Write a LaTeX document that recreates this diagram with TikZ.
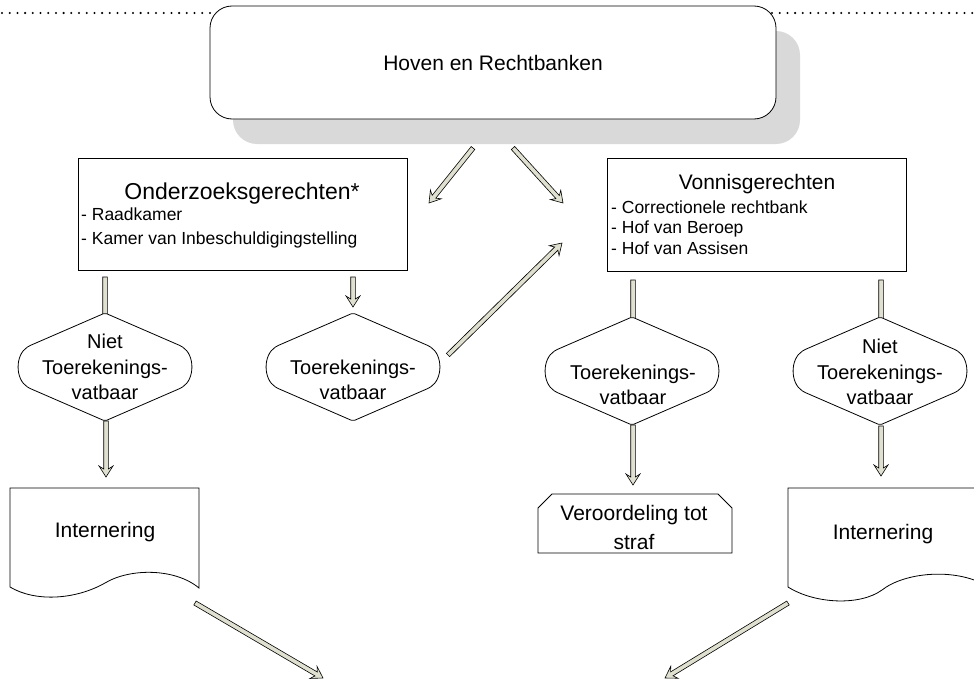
\documentclass[tikz,border=0pt]{standalone}
\usepackage{fontspec}
\setmainfont{Liberation Sans}
\usetikzlibrary{calc}

\definecolor{arrowfill}{HTML}{E0E0D0}
\definecolor{shadowgray}{HTML}{D9D9D9}

\tikzset{
  x=1pt, y=-1pt,
  boxline/.style={draw=black, fill=white, line width=0.8pt},
  blockarrow/.style={draw=black, fill=arrowfill, line width=0.6pt, line join=miter},
  dotline/.style={line width=2.3pt, line cap=round, dash pattern=on 0pt off 7.7pt},
  bigtext/.style={inner sep=0pt, font=\fontsize{21}{25}\selectfont},
  listtext/.style={inner sep=0pt, anchor=base west, font=\fontsize{17.5}{21}\selectfont},
  dectext/.style={inner sep=0pt, align=center, font=\fontsize{20}{25.5}\selectfont},
}

% hollow block arrow from #1 (tail) to #2 (tip)
\newcommand\blockarrow[2]{%
  \coordinate (ba-n) at ($(#2)!8pt!(#1)$);
  \coordinate (ba-w) at ($(#2)!11pt!(#1)$);
  \draw[blockarrow]
    ($(#1)!2.3pt!90:(#2)$) -- ($(ba-n)!2.3pt!90:(#2)$) -- ($(ba-w)!7pt!90:(#2)$)
    -- (#2)
    -- ($(ba-w)!7pt!-90:(#2)$) -- ($(ba-n)!2.3pt!-90:(#2)$) -- ($(#1)!2.3pt!-90:(#2)$)
    -- cycle;}

% decision outline: pointed top and bottom, bulging sides
\newcommand\decisionshape[1]{%
  \begin{scope}[shift={(#1)}]
    \draw[boxline, rounded corners=2pt]
      (0,-54) -- (-76,-21) .. controls (-90,-12) and (-90,12) .. (-76,21)
      -- (0,54) -- (76,21) .. controls (90,12) and (90,-12) .. (76,-21) -- cycle;
  \end{scope}}

\begin{document}
\begin{tikzpicture}
\useasboundingbox (0,0) rectangle (974,680);
\clip (0,0) rectangle (974,680);

% dotted rule along the top
\draw[dotline] (2,13) -- (974,13);

% top box with its shadow
\fill[shadowgray, rounded corners=24pt] (233,31) rectangle (800,144);
\node[boxline, rounded corners=22pt, minimum width=566pt, minimum height=113pt,
      inner sep=0pt, font=\fontsize{21}{25}\selectfont] (hoven) at (493,62.5) {Hoven en Rechtbanken};

% the two courts
\node[boxline, minimum width=329pt, minimum height=112pt, inner sep=0pt] (onderzoek) at (242.5,214) {};
\node[inner sep=0pt, anchor=base, font=\fontsize{23}{27}\selectfont] (onderzoektitle) at (242,199) {Onderzoeksgerechten*};
\node[listtext] (raad) at (81,220) {- Raadkamer};
\node[listtext] (kamer) at (81,244) {- Kamer van Inbeschuldigingstelling};

\node[boxline, minimum width=299pt, minimum height=113pt, inner sep=0pt] (vonnis) at (756.5,214.5) {};
\node[bigtext, anchor=base] (vonnistitle) at (757,189.5) {Vonnisgerechten};
\node[listtext] (corr) at (611,213) {- Correctionele rechtbank};
\node[listtext] (beroep) at (611,233.5) {- Hof van Beroep};
\node[listtext] (assisen) at (611,254) {- Hof van Assisen};

% arrow end points
\coordinate (a1s) at (473,148);  \coordinate (a1e) at (429,203);
\coordinate (a2s) at (513,148);  \coordinate (a2e) at (563,203);
\coordinate (a3s) at (448,355);  \coordinate (a3e) at (562,243);
\coordinate (v1s) at (105,277);  \coordinate (v1e) at (105,332);
\coordinate (v2s) at (353,277);  \coordinate (v2e) at (353,307);
\coordinate (v3s) at (633,280);  \coordinate (v3e) at (633,337);
\coordinate (v4s) at (881,280);  \coordinate (v4e) at (881,337);
\coordinate (w1s) at (106,421);  \coordinate (w1e) at (106,477);
\coordinate (w3s) at (633,425);  \coordinate (w3e) at (633,485);
\coordinate (w4s) at (881,426);  \coordinate (w4e) at (881,476);
\coordinate (b1s) at (195,603);  \coordinate (b1e) at (323,678);
\coordinate (b2s) at (788,603);  \coordinate (b2e) at (665,678);

\blockarrow{a1s}{a1e}
\blockarrow{a2s}{a2e}
\blockarrow{a3s}{a3e}
\blockarrow{v1s}{v1e}
\blockarrow{v2s}{v2e}
\blockarrow{v3s}{v3e}
\blockarrow{v4s}{v4e}
\blockarrow{w1s}{w1e}
\blockarrow{w3s}{w3e}
\blockarrow{w4s}{w4e}
\blockarrow{b1s}{b1e}
\blockarrow{b2s}{b2e}

% decisions
\decisionshape{105,367}
\node[dectext] (d1) at (105,367) {Niet\\Toerekenings-\\vatbaar};
\decisionshape{353,367}
\node[dectext] (d2) at (353,380) {Toerekenings-\\vatbaar};
\decisionshape{632,371}
\node[dectext] (d3) at (633,385) {Toerekenings-\\vatbaar};
\decisionshape{880,371}
\node[dectext] (d4) at (880,372) {Niet\\Toerekenings-\\vatbaar};

% outcomes
\draw[boxline] (10,488) -- (199,488) -- (199,588)
  .. controls (175,568) and (130,568) .. (105,583)
  .. controls (75,600) and (35,602) .. (10,587) -- cycle;
\node[bigtext, anchor=base] (intern1) at (105,537.5) {Internering};

\draw[boxline] (788,488) -- (985,488) -- (985,585)
  .. controls (955,568) and (905,572) .. (882,590)
  .. controls (860,606) and (815,604) .. (788,587) -- cycle;
\node[bigtext, anchor=base] (intern2) at (883,539.5) {Internering};

\draw[boxline] (552,494) -- (718,494) -- (732,508) -- (732,553) -- (538,553) -- (538,508) -- cycle;
\node[inner sep=0pt, align=center, font=\fontsize{21}{29}\selectfont] (straf) at (634,527.5) {Veroordeling tot\\straf};
\end{tikzpicture}
\end{document}
